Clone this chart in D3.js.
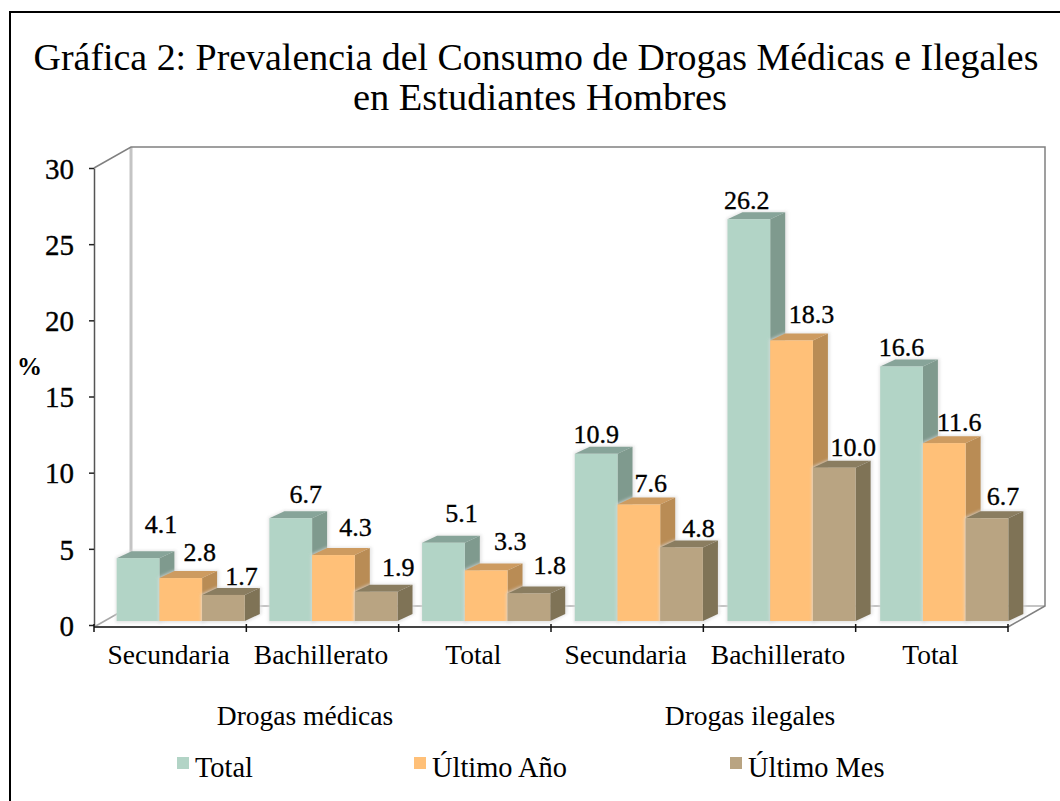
<!DOCTYPE html>
<html>
<head>
<meta charset="utf-8">
<script src="https://cdnjs.cloudflare.com/ajax/libs/d3/7.8.5/d3.min.js"></script>
<style>
  html, body { margin: 0; padding: 0; background: #fff; }
  svg { display: block; }
  text { font-family: "Liberation Serif", serif; fill: #000; }
  .heavy { stroke: #000; stroke-width: 0.35px; }
</style>
</head>
<body>
<svg id="chart" width="1060" height="801"></svg>
<script>
// Chart values
var categories = ["Secundaria", "Bachillerato", "Total", "Secundaria ", "Bachillerato ", "Total "];
var groupLabels = ["Drogas médicas", "Drogas ilegales"];
var seriesNames = ["Total", "Último Año", "Último Mes"];
var totalValues = [4.1, 6.7, 5.1, 10.9, 26.2, 16.6];
var anoValues = [2.8, 4.3, 3.3, 7.6, 18.3, 11.6];
var mesValues = [1.7, 1.9, 1.8, 4.8, 10.0, 6.7];
var yTicks = [0, 5, 10, 15, 20, 25, 30];

var seriesValues = [totalValues, anoValues, mesValues];
var faceColors = ["#b2d4c6", "#ffc078", "#b9a482"];
var sideColors = ["#7f9a8e", "#b98c54", "#7f7357"];
var topColors = ["#87a499", "#cd9b60", "#8a7d60"];

// labels were placed by hand in the original, offset from the bar's top centre
var labelNudge = [
  [[23, -33], [19, -25], [18, -18]],
  [[15, -23], [22, -27], [22, -24]],
  [[18, -29], [24, -28], [21, -27]],
  [[0, -19], [12, -20], [17, -18]],
  [[-2, -18], [20, -25], [19, -20]],
  [[0, -18], [15, -20], [16, -21]]
];

var svg = d3.select("#chart");

// outer frame
svg.append("rect")
  .attr("x", 10).attr("y", 12)
  .attr("width", 1060).attr("height", 800)
  .attr("fill", "#fff").attr("stroke", "#000").attr("stroke-width", 2);

// blur to soften the edges, the reference is a scaled up bitmap
var defs = svg.append("defs");
defs.append("filter").attr("id", "soft")
  .append("feGaussianBlur").attr("stdDeviation", 0.5);
defs.append("filter").attr("id", "halo")
  .attr("x", "-20%").attr("y", "-20%").attr("width", "140%").attr("height", "140%")
  .append("feGaussianBlur").attr("stdDeviation", 1.5);

// Title
svg.append("text").attr("x", 536).attr("y", 70)
  .attr("text-anchor", "middle").style("font-size", "37.9px")
  .text("Gráfica 2: Prevalencia del Consumo de Drogas Médicas e Ilegales");
svg.append("text").attr("x", 540).attr("y", 110)
  .attr("text-anchor", "middle").style("font-size", "38.5px")
  .text("en Estudiantes Hombres");

// Scales: the axis plane and the bar plane do not line up exactly in the 3D look
var yAxisScale = d3.scaleLinear().domain([0, 30]).range([625, 168]);
var yBar = d3.scaleLinear().domain([0, 30]).range([621, 161]);
var xAxisScale = d3.scaleBand().domain(categories).range([94, 1008]);
var x0 = d3.scaleBand().domain(categories).range([104.4, 1020.6]).paddingInner(0.161).paddingOuter(0.0805);
var x1 = d3.scaleBand().domain(seriesNames).range([0, x0.bandwidth()]);

var depthX = 15, depthY = 7;   // bar depth
var wallX = 37, wallY = 21;    // chart box depth
var plotLeft = 94, plotRight = 1008, plotBottom = 627, plotTop = yAxisScale(30);

// back walls and floor
var box = svg.append("g").attr("filter", "url(#soft)");
box.append("path")
  .attr("d", "M" + (plotLeft + wallX) + "," + (plotTop - wallY) + "V" + (plotBottom - wallY))
  .attr("fill", "none").attr("stroke", "#c4c4c4").attr("stroke-width", 3);
box.append("path")
  .attr("d", "M" + (plotLeft + wallX) + "," + (plotBottom - wallY) + "H" + (plotRight + wallX))
  .attr("fill", "none").attr("stroke", "#c4c4c4").attr("stroke-width", 2);
box.append("path")
  .attr("d", "M" + plotLeft + "," + plotTop + "L" + (plotLeft + wallX) + "," + (plotTop - wallY) + "H" + (plotRight + wallX) + "V" + (plotBottom - wallY) + "L" + plotRight + "," + plotBottom)
  .attr("fill", "none").attr("stroke", "#808080").attr("stroke-width", 1.5);
box.append("path")
  .attr("d", "M" + plotLeft + "," + plotBottom + "L" + (plotLeft + wallX) + "," + (plotBottom - wallY))
  .attr("fill", "none").attr("stroke", "#a8a8a8").attr("stroke-width", 1.5);

// Bars, left to right so each front face covers the previous side face
var bars = svg.append("g");
categories.forEach(function(cat, c) {
  seriesNames.forEach(function(name, s) {
    var v = seriesValues[s][c];
    var left = x0(cat) + x1(name), right = left + x1.bandwidth();
    var top = yBar(v), bottom = yBar(0);
    var g = bars.append("g");

    g.append("path").attr("filter", "url(#halo)").attr("fill", "#dcdcdc").attr("opacity", 0.7)
      .attr("d", "M" + (left - 1) + "," + (bottom + 2) + "V" + (top - 1) + "L" + (left + depthX) + "," + (top - depthY - 1)
        + "H" + (right + depthX + 2) + "V" + (bottom - depthY) + "L" + (right + 1) + "," + (bottom + 2) + "Z");
    g.append("path").attr("fill", sideColors[s]).attr("filter", "url(#soft)")
      .attr("d", "M" + right + "," + top + "L" + (right + depthX) + "," + (top - depthY)
        + "V" + (bottom - depthY) + "L" + right + "," + bottom + "Z");
    g.append("path").attr("fill", topColors[s]).attr("filter", "url(#soft)")
      .attr("d", "M" + left + "," + top + "L" + (left + depthX) + "," + (top - depthY)
        + "H" + (right + depthX) + "L" + right + "," + top + "Z");
    g.append("rect").attr("fill", faceColors[s]).attr("filter", "url(#soft)")
      .attr("x", left).attr("y", top)
      .attr("width", x1.bandwidth()).attr("height", bottom - top);
  });
});

// Y axis
var yAxis = d3.axisLeft(yAxisScale).tickValues(yTicks).tickSize(5).tickSizeOuter(0).tickPadding(5);
var yG = svg.append("g").attr("transform", "translate(" + plotLeft + ",0)").call(yAxis);
yG.select(".domain").attr("stroke", "#555").attr("stroke-width", 1.5);
yG.selectAll(".tick line").attr("stroke", "#222").attr("stroke-width", 1.5);
yG.selectAll(".tick text").attr("class", "heavy").attr("x", -20).attr("y", 1)
  .style("font-size", "29px").style("font-family", '"Liberation Serif", serif');

// X axis, ticks sit on the band edges
var xG = svg.append("g");
xG.append("line").attr("x1", plotLeft).attr("x2", plotRight)
  .attr("y1", plotBottom).attr("y2", plotBottom)
  .attr("stroke", "#444").attr("stroke-width", 2);
xG.selectAll(".edge").data(categories.concat(["end"])).enter().append("line")
  .attr("x1", function(d, i) { return i < categories.length ? xAxisScale(d) : xAxisScale.range()[1]; })
  .attr("x2", function(d, i) { return i < categories.length ? xAxisScale(d) : xAxisScale.range()[1]; })
  .attr("y1", plotBottom - 3).attr("y2", plotBottom + 5)
  .attr("stroke", "#111").attr("stroke-width", 1.5);
xG.selectAll(".cat").data(categories).enter().append("text")
  .attr("x", function(d) { return xAxisScale(d) + xAxisScale.bandwidth() / 2 - 1.5; })
  .attr("y", 664)
  .attr("text-anchor", "middle").style("font-size", "27.5px")
  .text(function(d) { return d.trim(); });

// Group labels
svg.selectAll(".group").data(groupLabels).enter().append("text")
  .attr("x", function(d, i) { return i === 0 ? 305 : 750; })
  .attr("y", 725)
  .attr("text-anchor", "middle").style("font-size", "27.5px")
  .text(function(d) { return d; });

// % label
svg.append("text").attr("x", 17).attr("y", 375)
  .style("font-size", "25px").style("font-weight", "bold").text("%");

// Value labels
categories.forEach(function(cat, c) {
  seriesNames.forEach(function(name, s) {
    var v = seriesValues[s][c];
    svg.append("text").attr("class", "heavy")
      .attr("x", x0(cat) + x1(name) + x1.bandwidth() / 2 + labelNudge[c][s][0])
      .attr("y", yBar(v) + labelNudge[c][s][1] + 8)
      .attr("text-anchor", "middle").style("font-size", "26px")
      .text(v.toFixed(1));
  });
});

// Legend
var legendX = [177, 414, 730];
var legend = svg.selectAll(".legend").data(seriesNames).enter().append("g")
  .attr("transform", function(d, i) { return "translate(" + legendX[i] + ",757)"; });
legend.append("rect").attr("width", 12).attr("height", 12)
  .attr("fill", function(d, i) { return faceColors[i]; });
legend.append("text").attr("x", 18).attr("y", 20)
  .style("font-size", "28.4px")
  .text(function(d) { return d; });
</script>
</body>
</html>
